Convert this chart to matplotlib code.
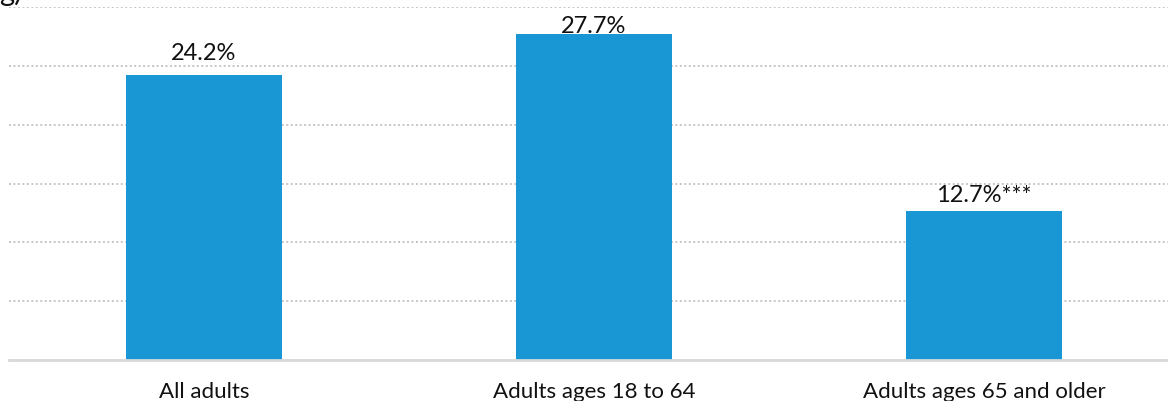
import matplotlib.pyplot as plt

categories = ['All adults', 'Adults ages 18 to 64', 'Adults ages 65 and older']
values = [24.2, 27.7, 12.7]
labels = ['24.2%', '27.7%', '12.7%***']
label_offsets = [12, 1.5, 7]  # points above bar top

plt.rcParams['font.family'] = ['Lato', 'DejaVu Sans']

fig = plt.figure(figsize=(11.68, 4.02), dpi=100)
ax = fig.add_axes([9 / 1168, 41 / 402, 1159 / 1168, 353 / 402])

x = list(range(len(categories)))
ax.bar(x, values, width=0.4, color='#1897d4', zorder=3)

for xi, v, lab, off in zip(x, values, labels, label_offsets):
    ax.annotate(lab, (xi, v), xytext=(0, off), textcoords='offset points',
                ha='center', va='baseline', fontsize=17, color='#111111', zorder=4)

ax.set_xlim(-0.5, 2.472)
ax.set_ylim(0, 30)
ax.set_yticks([0, 5, 10, 15, 20, 25, 30])
ax.yaxis.grid(True, linestyle=(0, (1, 1.3)), color='#c6c6c6', linewidth=1.4)
ax.set_yticklabels([])
ax.tick_params(axis='y', length=0)
ax.set_xticks(x)
ax.set_xticklabels(categories, fontsize=16, color='#111111')
ax.tick_params(axis='x', length=0, pad=15)

for s in ['top', 'right', 'left']:
    ax.spines[s].set_visible(False)
ax.spines['bottom'].set_color('#d9d9d9')
ax.spines['bottom'].set_linewidth(2)
ax.spines['bottom'].set_zorder(5)

# title cut off by the top edge, only its tail shows
fig.text(-1 / 1168, 401 / 402, 'g)', fontsize=21, va='baseline', ha='left', color='#111111')

fig.savefig('out.png', dpi=100)
